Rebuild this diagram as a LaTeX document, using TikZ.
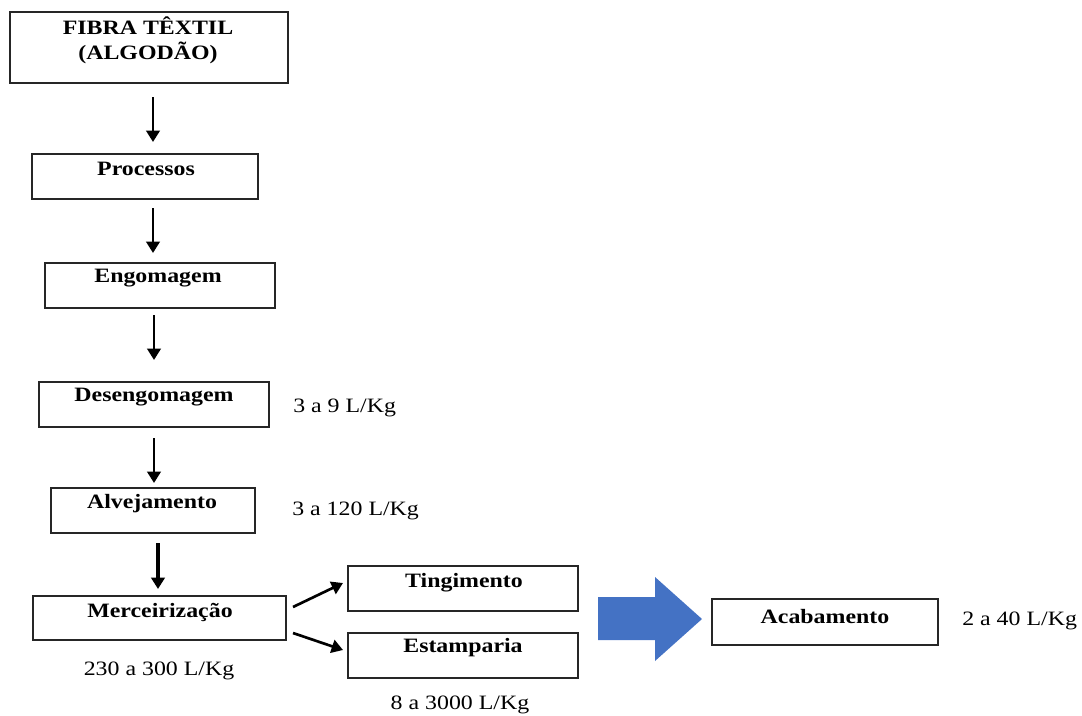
\documentclass[tikz,border=0pt]{standalone}
\usepackage{fontspec}
\setmainfont{Liberation Serif}[FakeStretch=1.17]
\usetikzlibrary{arrows.meta,calc}
\definecolor{officeblue}{HTML}{4472C4}
\begin{document}
\begin{tikzpicture}[x=0.75pt,y=-0.75pt,
  box/.style={draw=black!85,line width=1.3pt,inner sep=0pt,outer sep=0pt,anchor=north west},
  boxtext/.style={font=\fontsize{15.3}{18.75}\selectfont\bfseries,align=center,inner sep=0pt},
  qty/.style={font=\fontsize{15.3}{18.75}\selectfont,inner sep=0pt},
  arr/.style={line width=2pt,-{Triangle[width=10pt,length=8.5pt]}},
  bigarrow/.style={fill=officeblue,draw=none}]
\useasboundingbox (0,0) rectangle (1082,715);
% boxes
\node[box,minimum width=208.5pt,minimum height=53.25pt] (fibra) at (10,12) {};
\node[box,minimum width=169.5pt,minimum height=33.75pt] (proc) at (32,154) {};
\node[box,minimum width=172.5pt,minimum height=33.75pt] (engo) at (45,263) {};
\node[box,minimum width=172.5pt,minimum height=33.75pt] (deseng) at (39,382) {};
\node[box,minimum width=153pt,minimum height=33.75pt] (alv) at (51,488) {};
\node[box,minimum width=189.75pt,minimum height=33pt] (merc) at (33,596) {};
\node[box,minimum width=172.5pt,minimum height=33.75pt] (ting) at (348,566) {};
\node[box,minimum width=172.5pt,minimum height=33.75pt] (estamp) at (348,633) {};
\node[box,minimum width=169.5pt,minimum height=34.5pt] (acab) at (712,599) {};
% box texts
\node[boxtext] (tfibra) at (148,40) {FIBRA TÊXTIL\\(ALGODÃO)};
\node[boxtext] (tproc) at (146,169) {Processos};
\node[boxtext] (tengo) at (158,278) {Engomagem};
\node[boxtext] (tdeseng) at (154,397) {Desengomagem};
\node[boxtext] (talv) at (152,504) {Alvejamento};
\node[boxtext] (tmerc) at (160,612) {Merceirização};
\node[boxtext] (tting) at (464,583) {Tingimento};
\node[boxtext] (testamp) at (463,648) {Estamparia};
\node[boxtext] (tacab) at (825,617) {Acabamento};
% quantities
\node[qty,anchor=west] (q1) at (293,408) {3 a 9 L/Kg};
\node[qty,anchor=west] (q2) at (292,511) {3 a 120 L/Kg};
\node[qty] (q3) at (159,671) {230 a 300 L/Kg};
\node[qty] (q4) at (460,705) {8 a 3000 L/Kg};
\node[qty,anchor=west] (q5) at (962,621) {2 a 40 L/Kg};
% arrows
\draw[arr] ($(fibra.south)+(4,14)$) -- ($(proc.north)+(8,-12)$);
\draw[arr] ($(proc.south)+(8,9)$) -- ($(engo.north)+(-7,-10)$);
\draw[arr] ($(engo.south)+(-6,7)$) -- ($(deseng.north)+(0,-22)$);
\draw[arr] ($(deseng.south)+(0,11)$) -- ($(alv.north)+(1,-5)$);
\draw[arr,line width=2.6pt] ($(alv.south)+(5,10)$) -- ($(merc.north)+(-1.5,-7)$);
\draw[arr] ($(merc.east)+(7,-11)$) -- ($(ting.west)+(-5,-5.5)$);
\draw[arr] ($(merc.east)+(7,15)$) -- ($(estamp.west)+(-5,-5.5)$);
% big block arrow
\fill[bigarrow] (598,597) -- (655,597) -- (655,577) -- (702,619) -- (655,661) -- (655,640) -- (598,640) -- cycle;
\end{tikzpicture}
\end{document}
